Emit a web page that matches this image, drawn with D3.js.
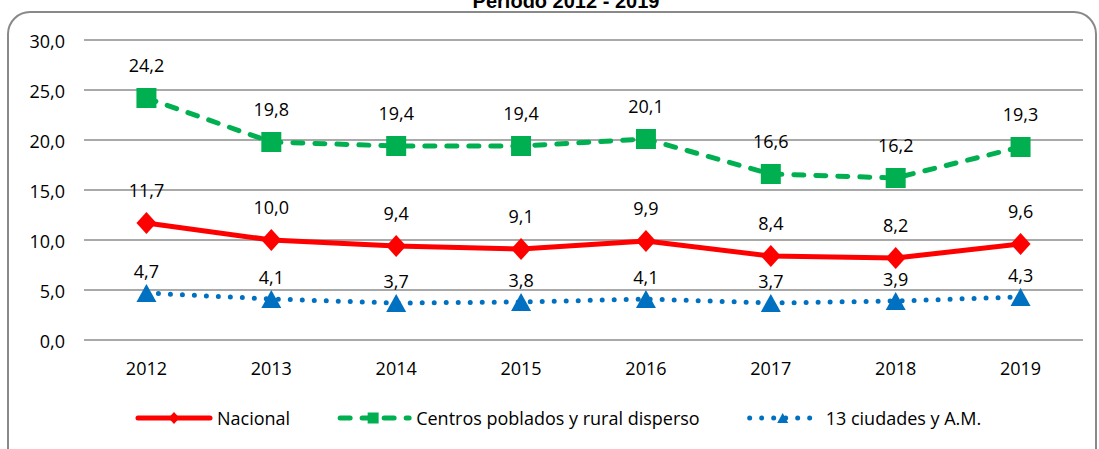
<!DOCTYPE html>
<html>
<head>
<meta charset="utf-8">
<script src="https://cdn.jsdelivr.net/npm/d3@7"></script>
<style>
  body { margin: 0; background: #fff; }
  text { font-family: "Open Sans", sans-serif; fill: #000; }
</style>
</head>
<body>
<div class="lineChart"></div>
<script>
var years = ["2012", "2013", "2014", "2015", "2016", "2017", "2018", "2019"];
var nacional = [11.7, 10.0, 9.4, 9.1, 9.9, 8.4, 8.2, 9.6];
var centros = [24.2, 19.8, 19.4, 19.4, 20.1, 16.6, 16.2, 19.3];
var ciudades = [4.7, 4.1, 3.7, 3.8, 4.1, 3.7, 3.9, 4.3];
var yTicks = [0, 5, 10, 15, 20, 25, 30];
var seriesNames = ["Nacional", "Centros poblados y rural disperso", "13 ciudades y A.M."];
var title = "Periodo 2012 - 2019";

function init() {
  var w = 1099;
  var h = 449;

  var fmt = function(v) {
    return d3.format(".1f")(v).replace(".", ",");
  };

  var series = [
    { name: seriesNames[0], values: nacional, color: "#FF0000", dash: null, marker: "diamond", labelOff: 26 },
    { name: seriesNames[1], values: centros, color: "#00B050", dash: "10 12", marker: "square", labelOff: 26 },
    { name: seriesNames[2], values: ciudades, color: "#0070C0", dash: "0 12", marker: "triangle", labelOff: 15 }
  ];

  var svg = d3.select(".lineChart")
    .append("svg")
    .attr("width", w)
    .attr("height", h);

  // outer frame
  svg.append("rect")
    .attr("x", 8)
    .attr("y", 12)
    .attr("width", 1088)
    .attr("height", 460)
    .attr("rx", 22)
    .attr("fill", "#fff")
    .attr("stroke", "#898989")
    .attr("stroke-width", 2);

  // title is partly above the page edge, as in the source
  svg.append("text")
    .attr("x", 566)
    .attr("y", 8)
    .attr("text-anchor", "middle")
    .style("font-family", "'Liberation Sans', Arial, sans-serif")
    .style("font-weight", "bold")
    .style("font-size", "20px")
    .text(title);

  var xScale = d3.scaleBand()
    .domain(years)
    .range([84, 1083]);

  var yScale = d3.scaleLinear()
    .domain([0, 30])
    .range([340, 40]);

  var cx = function(i) {
    return xScale(years[i]) + xScale.bandwidth() / 2;
  };

  // gridlines
  svg.append("g")
    .selectAll("line")
    .data(yTicks)
    .enter()
    .append("line")
    .attr("x1", 84)
    .attr("x2", 1083)
    .attr("y1", function(d) { return yScale(d); })
    .attr("y2", function(d) { return yScale(d); })
    .attr("stroke", "#8c8c8c")
    .attr("stroke-width", 1.5);

  // y axis labels
  var yAxis = d3.axisLeft(yScale)
    .tickValues(yTicks)
    .tickFormat(fmt)
    .tickSize(0)
    .tickPadding(0);

  var gy = svg.append("g")
    .attr("transform", "translate(65,0)")
    .call(yAxis);
  gy.select(".domain").remove();
  gy.selectAll("text")
    .attr("dy", null)
    .attr("y", 7)
    .style("font-family", "'Open Sans', sans-serif")
    .style("font-size", "18px")
    .style("fill", "#000");

  // x axis labels
  var xAxis = d3.axisBottom(xScale)
    .tickSize(0)
    .tickPadding(0);

  var gx = svg.append("g")
    .attr("transform", "translate(0,340)")
    .call(xAxis);
  gx.select(".domain").remove();
  gx.selectAll("text")
    .attr("dy", null)
    .attr("y", 35)
    .style("font-family", "'Open Sans', sans-serif")
    .style("font-size", "18px")
    .style("fill", "#000");

  function markerPath(type, s) {
    // s = half size
    if (type === "diamond") {
      return "M0," + (-s * 1.1) + "L" + s + ",0L0," + (s * 1.1) + "L" + (-s) + ",0Z";
    }
    if (type === "square") {
      return "M" + (-s) + "," + (-s) + "H" + s + "V" + s + "H" + (-s) + "Z";
    }
    return "M0," + (-s * 0.9) + "L" + s + "," + (s * 0.9) + "L" + (-s) + "," + (s * 0.9) + "Z";
  }

  var line = d3.line()
    .x(function(d, i) { return cx(i); })
    .y(function(d) { return yScale(d); });

  series.forEach(function(s) {
    var g = svg.append("g");

    g.append("path")
      .datum(s.values)
      .attr("d", line)
      .attr("fill", "none")
      .attr("stroke", s.color)
      .attr("stroke-width", 5)
      .attr("stroke-linejoin", "round")
      .attr("stroke-linecap", s.dash ? "round" : "butt")
      .attr("stroke-dasharray", s.dash);

    g.selectAll(".marker")
      .data(s.values)
      .enter()
      .append("path")
      .attr("class", "marker")
      .attr("d", markerPath(s.marker, 10))
      .attr("transform", function(d, i) {
        return "translate(" + cx(i) + "," + yScale(d) + ")";
      })
      .attr("fill", s.color);

    g.selectAll(".label")
      .data(s.values)
      .enter()
      .append("text")
      .attr("class", "label")
      .attr("x", function(d, i) { return cx(i); })
      .attr("y", function(d) { return yScale(d) - s.labelOff; })
      .attr("text-anchor", "middle")
      .style("font-size", "18px")
      .text(fmt);
  });

  // legend
  var legend = svg.append("g")
    .attr("class", "legend")
    .attr("transform", "translate(0,418)");

  var lx = 138;
  series.forEach(function(s) {
    var item = legend.append("g")
      .attr("transform", "translate(" + lx + ",0)");

    item.append("line")
      .attr("x1", s.dash ? 3 : 0)
      .attr("x2", 72)
      .attr("y1", 0)
      .attr("y2", 0)
      .attr("stroke", s.color)
      .attr("stroke-width", 5)
      .attr("stroke-linecap", "round")
      .attr("stroke-dasharray", s.dash);

    item.append("path")
      .attr("d", markerPath(s.marker, 5.5))
      .attr("transform", "translate(36,0)")
      .attr("fill", s.color);

    var t = item.append("text")
      .attr("x", 79)
      .attr("y", 6.5)
      .style("font-size", "18px")
      .text(s.name);

    lx += 79 + t.node().getComputedTextLength() + 47;
  });
}

window.onload = init;
</script>
</body>
</html>
